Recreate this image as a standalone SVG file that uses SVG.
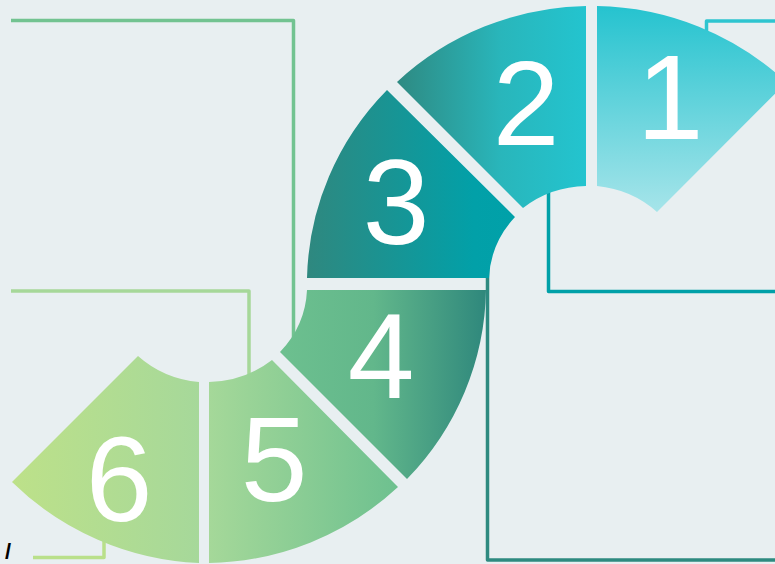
<svg xmlns="http://www.w3.org/2000/svg" width="775" height="564" viewBox="0 0 775 564">
  <defs>
    <linearGradient id="g1" gradientUnits="userSpaceOnUse" x1="0" y1="6" x2="0" y2="215">
      <stop offset="0" stop-color="#25c3cf"/>
      <stop offset="1" stop-color="#a8e5ea"/>
    </linearGradient>
    <linearGradient id="g2" gradientUnits="userSpaceOnUse" x1="397" y1="0" x2="586" y2="0">
      <stop offset="0" stop-color="#2e8a82"/>
      <stop offset="0.55" stop-color="#29b6bb"/>
      <stop offset="1" stop-color="#23c4cf"/>
    </linearGradient>
    <linearGradient id="g3" gradientUnits="userSpaceOnUse" x1="307" y1="0" x2="515" y2="0">
      <stop offset="0" stop-color="#2f887f"/>
      <stop offset="0.8" stop-color="#02a0a8"/>
      <stop offset="1" stop-color="#00a1a9"/>
    </linearGradient>
    <linearGradient id="g4" gradientUnits="userSpaceOnUse" x1="280" y1="0" x2="488" y2="0">
      <stop offset="0" stop-color="#6dc08f"/>
      <stop offset="0.45" stop-color="#62b78b"/>
      <stop offset="1" stop-color="#2e877c"/>
    </linearGradient>
    <linearGradient id="g5" gradientUnits="userSpaceOnUse" x1="209" y1="0" x2="402" y2="0">
      <stop offset="0" stop-color="#a5d899"/>
      <stop offset="1" stop-color="#6cc08f"/>
    </linearGradient>
    <linearGradient id="g6" gradientUnits="userSpaceOnUse" x1="12" y1="0" x2="199" y2="0">
      <stop offset="0" stop-color="#bde189"/>
      <stop offset="1" stop-color="#a6d89a"/>
    </linearGradient>
  </defs>
  <style>
    .bg { fill: #e8eff1; }
    .conn { fill: none; stroke-width: 3.5; stroke-linejoin: round; }
    .num { font-family: "Liberation Sans", Arial, sans-serif; font-size: 120px; fill: #ffffff; text-anchor: middle; }
  </style>

  <rect class="bg" x="0" y="0" width="775" height="564"/>

  <g id="connectors">
    <path class="conn" stroke="#72c391" d="M11,20.5 H293.5 V345"/>
    <path class="conn" stroke="#a6d899" d="M11,291 H249 V385"/>
    <path class="conn" stroke="#b9e08a" d="M33,557.5 H104 V535"/>
    <path class="conn" stroke="#2ec5d0" d="M706.5,45 V21 H780"/>
    <path class="conn" stroke="#00a0a8" d="M548.5,180 V291.5 H780"/>
    <path class="conn" stroke="#2e8a80" d="M487.5,250 V560 H780"/>
  </g>

  <g id="seg1">
    <path fill="url(#g1)" d="M597,6 A283,279 0 0 1 786.4,82.4 L657,212 A103,98 0 0 0 597,186 Z"/>
    <text class="num" x="670" y="139">1</text>
  </g>
  <g id="seg2">
    <path fill="url(#g2)" d="M586,6 L586,186 A103,98 0 0 0 523,208 L397,82 A283,279 0 0 1 586,6 Z"/>
    <text class="num" x="526" y="145">2</text>
  </g>
  <g id="seg3">
    <path fill="url(#g3)" d="M387,90 L515,217 A103,98 0 0 0 489,278 L307,278 A283,279 0 0 1 387,90 Z"/>
    <text class="num" x="396" y="244">3</text>
  </g>
  <g id="seg4">
    <path fill="url(#g4)" d="M307,290 L486,290 A283,279 0 0 1 407,479 L280,352 A103,98 0 0 0 307,290 Z"/>
    <text class="num" x="381" y="398">4</text>
  </g>
  <g id="seg5">
    <path fill="url(#g5)" d="M272,360 L398,487 A283,279 0 0 1 209,563 L209,382 A103,98 0 0 0 272,360 Z"/>
    <text class="num" x="274" y="501">5</text>
  </g>
  <g id="seg6">
    <path fill="url(#g6)" d="M199,382 L199,563 A283,279 0 0 1 12,482 L138,356 A103,98 0 0 0 199,382 Z"/>
    <text class="num" x="119" y="521">6</text>
  </g>

  <text x="5" y="559" font-family="Liberation Sans, Arial, sans-serif" font-size="22" font-weight="bold" fill="#000000">/</text>
</svg>
